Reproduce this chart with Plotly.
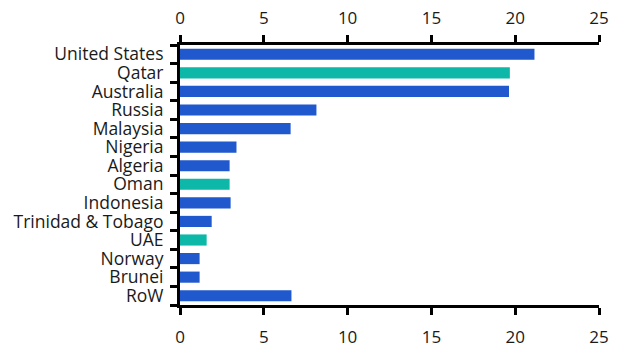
import plotly.graph_objects as go

countries = ["United States", "Qatar", "Australia", "Russia", "Malaysia", "Nigeria",
             "Algeria", "Oman", "Indonesia", "Trinidad & Tobago", "UAE", "Norway",
             "Brunei", "RoW"]
values = [21.15, 19.68, 19.63, 8.14, 6.6, 3.37, 2.96, 2.96, 3.02, 1.89, 1.59, 1.17, 1.17, 6.65]
highlight = ["Qatar", "Oman", "UAE"]

BLUE = "#2059cd"
TEAL = "#0db8a9"
colors = [TEAL if c in highlight else BLUE for c in countries]

x_ticks = [0, 5, 10, 15, 20, 25]
FONT = "Open Sans"

fig = go.Figure()
fig.add_trace(go.Bar(x=values, y=countries, orientation="h", marker=dict(color=colors, line=dict(width=0)),
                     xaxis="x", yaxis="y", hoverinfo="skip"))
fig.add_trace(go.Bar(x=values, y=countries, orientation="h", marker=dict(color=colors, line=dict(width=0)),
                     opacity=0, xaxis="x2", yaxis="y", hoverinfo="skip", showlegend=False))

axis_common = dict(range=[0, 25], tickvals=x_ticks, showgrid=False, zeroline=False,
                   showline=True, linecolor="black", linewidth=3, automargin=False,
                   ticks="outside", ticklen=7, tickwidth=3, tickcolor="black",
                   tickfont=dict(family=FONT, size=17, color="#1a1a1a"))

fig.update_layout(
    width=630, height=355,
    margin=dict(l=180, r=31, t=45, b=50),
    plot_bgcolor="white", paper_bgcolor="white",
    showlegend=False,
    bargap=0.4,
    barmode="overlay",
    xaxis=dict(side="bottom", ticklabelstandoff=8, **axis_common),
    xaxis2=dict(side="top", overlaying="x", matches="x", ticklabelstandoff=4, **axis_common),
    yaxis=dict(autorange="reversed", type="category", showgrid=False, zeroline=False,
               tickmode="array", tickvals=countries, ticktext=countries, automargin=False,
               showline=True, linecolor="black", linewidth=3,
               ticks="outside", ticklen=7, tickwidth=3, tickcolor="black",
               tickson="boundaries", ticklabelstandoff=10,
               tickfont=dict(family=FONT, size=17.5, color="#1a1a1a")),
)

fig.write_html("out.html")
